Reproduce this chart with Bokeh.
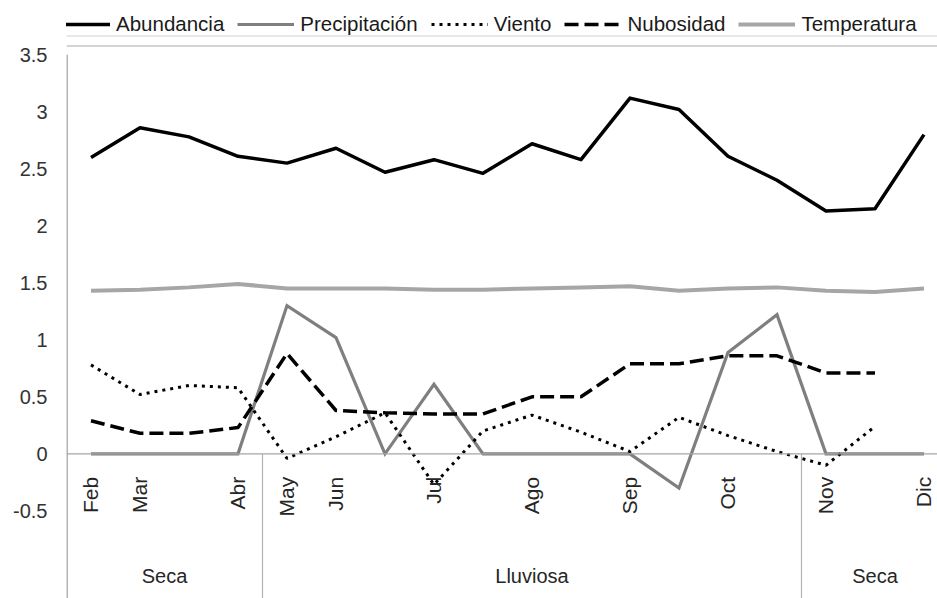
import math
from bokeh.plotting import figure
from bokeh.models import (Range1d, FixedTicker, Legend, LegendItem, Span,
                          ColumnDataSource)
from bokeh.core.properties import value
from bokeh.embed import file_html
from bokeh.resources import INLINE

NAN = float("nan")

# ---------------- data ----------------
months = ["Feb", "Mar", "", "Abr", "May", "Jun", "", "Jul", "", "Ago", "",
          "Sep", "", "Oct", "", "Nov", "", "Dic"]
abundancia = [2.60, 2.86, 2.78, 2.61, 2.55, 2.68, 2.47, 2.58, 2.46, 2.72, 2.58,
              3.12, 3.02, 2.61, 2.40, 2.13, 2.15, 2.80]
precipitacion = [0, 0, 0, 0, 1.30, 1.02, 0, 0.61, 0, 0, 0, 0, -0.30, 0.89, 1.22,
                 0, 0, 0]
viento = [0.78, 0.52, 0.60, 0.58, -0.04, 0.15, 0.36, -0.27, 0.20, 0.34, 0.19,
          0.02, 0.32, 0.16, 0.02, -0.10, 0.24, NAN]
nubosidad = [0.29, 0.18, 0.18, 0.23, 0.88, 0.38, 0.36, 0.35, 0.35, 0.50, 0.50,
             0.79, 0.79, 0.86, 0.86, 0.71, 0.71, NAN]
temperatura = [1.43, 1.44, 1.46, 1.49, 1.45, 1.45, 1.45, 1.44, 1.44, 1.45, 1.46,
               1.47, 1.43, 1.45, 1.46, 1.43, 1.42, 1.45]

seasons = ["Seca", "Lluviosa", "Seca"]
season_start = [0, 4, 15]
season_end = [3, 14, 17]

y_ticks = [-0.5, 0, 0.5, 1, 1.5, 2, 2.5, 3, 3.5]
y_tick_labels = ["-0.5", "0", "0.5", "1", "1.5", "2", "2.5", "3", "3.5"]

series_names = ["Abundancia", "Precipitación", "Viento", "Nubosidad", "Temperatura"]

# ---------------- figure ----------------
FONT = "Liberation Sans"
idx = list(range(len(months)))
PX = 114.0                     # pixels per y unit
Y_TOP = 3.5 + 54.3 / PX
Y_BOT = -1.269

p = figure(width=937, height=598, output_backend="svg", toolbar_location=None,
           x_axis_location=None,
           x_range=Range1d(-0.5, 17.276), y_range=Range1d(Y_BOT, Y_TOP),
           min_border_left=66, min_border_right=0, min_border_top=0,
           min_border_bottom=0)
p.outline_line_color = None
p.xgrid.visible = False
p.ygrid.visible = False
p.background_fill_color = "white"
p.border_fill_color = "white"

ax = p.yaxis[0]
ax.ticker = FixedTicker(ticks=y_ticks)
ax.major_label_overrides = {t: s for t, s in zip(y_ticks, y_tick_labels)}
ax.major_tick_out = 0
ax.major_tick_in = 0
ax.minor_tick_out = 0
ax.minor_tick_in = 0
ax.major_label_standoff = 19
ax.axis_line_color = None
ax.major_label_text_font = FONT
ax.major_label_text_font_size = "20px"
ax.major_label_text_color = "#333333"

# value axis line (from the top tick down to the bottom of the category area)
p.segment(x0=[-0.5], x1=[-0.5], y0=[max(y_ticks)], y1=[Y_BOT],
          line_color="#b3b3b3", line_width=3)

# zero line (category axis)
p.add_layout(Span(location=0, dimension="width", line_color="#a6a6a6",
                  line_width=1.2))

# season dividers
div_x = [e + 0.5 for e in season_end[:-1]]
p.segment(x0=div_x, x1=div_x, y0=[0] * len(div_x), y1=[Y_BOT] * len(div_x),
          line_color="#b3b3b3", line_width=1.2)

# thin rules under the legend
p.add_layout(Span(location=Y_TOP - 35.5 / PX, dimension="width",
                  line_color="#d0d0d0", line_width=1))
p.add_layout(Span(location=Y_TOP - 45.5 / PX, dimension="width",
                  line_color="#a8a8a8", line_width=1))

# series
r_ab = p.line(idx, abundancia, line_color="#000000", line_width=3.5,
              line_join="round")
r_pr = p.line(idx, precipitacion, line_color="#7f7f7f", line_width=3.2,
              line_join="miter")
r_vi = p.line(idx, viento, line_color="#000000", line_width=3,
              line_dash="3 5")
r_nu = p.line(idx, nubosidad, line_color="#000000", line_width=3.5,
              line_dash="14 6")
r_te = p.line(idx, temperatura, line_color="#a6a6a6", line_width=4,
              line_join="round")

# month labels (rotated)
src = ColumnDataSource(dict(x=idx, y=[0] * len(idx), t=months))
p.text(x="x", y="y", text="t", source=src, angle=math.pi / 2,
       text_align="right", text_baseline="middle", y_offset=23,
       text_font=value(FONT), text_font_size="21px", text_color="#262626")

# season labels
season_x = [(s + e) / 2 for s, e in zip(season_start, season_end)]
p.text(x=season_x, y=[-1.07] * len(seasons), text=seasons,
       text_align="center", text_baseline="middle",
       text_font=value(FONT), text_font_size="20px", text_color="#262626")

# legend
legend = Legend(items=[LegendItem(label=n, renderers=[r])
                       for n, r in zip(series_names, [r_ab, r_pr, r_vi, r_nu, r_te])],
                orientation="horizontal", location=(-13, 562),
                glyph_width=57, glyph_height=20, label_standoff=6, spacing=13,
                padding=0, margin=0, border_line_color=None,
                background_fill_alpha=0,
                label_text_font=FONT, label_text_font_size="20.5px",
                label_text_color="#1a1a1a")
p.add_layout(legend, "center")

open("out.html", "w").write(file_html(p, INLINE))
